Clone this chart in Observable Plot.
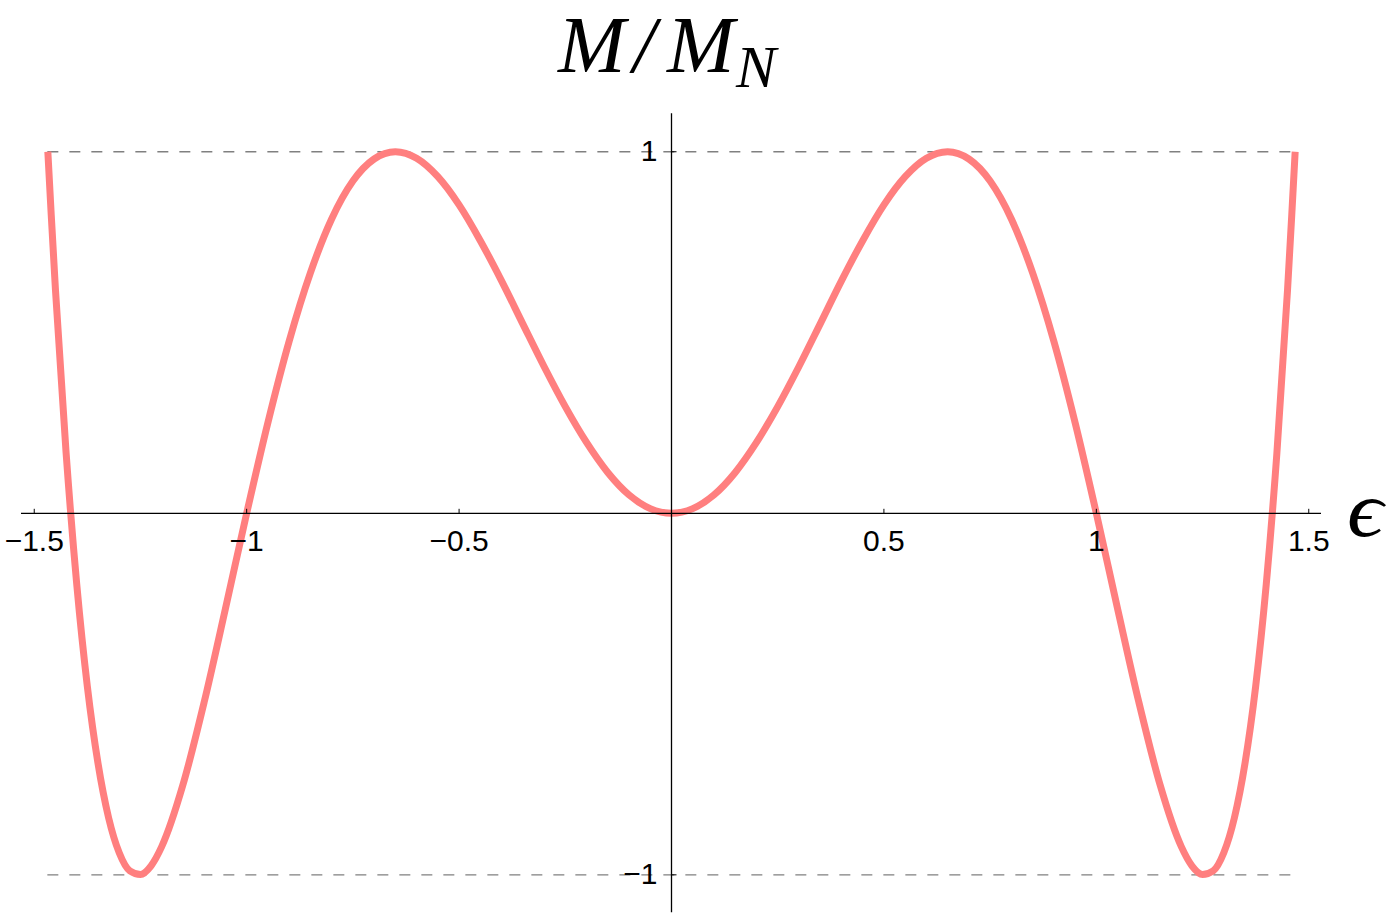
<!DOCTYPE html>
<html><head><meta charset="utf-8">
<script src="https://cdn.jsdelivr.net/npm/d3@7"></script>
<script src="https://cdn.jsdelivr.net/npm/@observablehq/plot@0.6"></script>
<style>
body{margin:0;background:#fff;}
#wrap{position:relative;width:1389px;height:916px;overflow:hidden;background:#fff;}
#wrap svg{position:absolute;left:0;top:0;}
.t{position:absolute;font-family:'Liberation Serif','Times New Roman',serif;font-style:italic;line-height:1;white-space:nowrap;color:#000;}
#m1{left:558px;top:5px;font-size:81px;}
#sl{left:633px;top:5px;font-size:81px;}
#m2{left:667px;top:5px;font-size:81px;}
#nn{left:736px;top:37px;font-size:60px;}
#xlab{position:absolute;left:1347px;top:471px;font-family:'Liberation Serif','DejaVu Serif',serif;font-style:italic;font-size:78px;line-height:1;color:#000;transform:scaleX(1.15);transform-origin:0 0;}
</style>
</head><body>
<div id="wrap">
  <span class="t" id="m1">M</span><span class="t" id="sl">/</span><span class="t" id="m2">M</span><span class="t" id="nn">N</span>
  <div id="xlab">ϵ</div>
</div>
<script>
// ε values (x) and M/M_N values (y)
const eps = [-1.468,-1.46,-1.45,-1.425,-1.4,-1.375,-1.35,-1.325,-1.3,-1.275,-1.25,-1.225,-1.2,-1.15,-1.1,-1.05,-1.0,
  -0.95,-0.9,-0.85,-0.8,-0.75,-0.7,-0.65,-0.6,-0.55,-0.5,-0.45,-0.4,-0.35,-0.3,-0.25,-0.2,-0.15,-0.1,-0.05,
  0,0.05,0.1,0.15,0.2,0.25,0.3,0.35,0.4,0.45,0.5,0.55,0.6,0.65,0.7,0.75,0.8,0.85,0.9,0.95,
  1.0,1.05,1.1,1.15,1.2,1.225,1.25,1.275,1.3,1.325,1.35,1.375,1.4,1.425,1.45,1.46,1.468];
const mRatio = [1.0,0.825,0.617,0.167,-0.196,-0.479,-0.691,-0.842,-0.939,-0.989,-0.999,-0.975,-0.922,-0.751,-0.522,-0.264,0,
  0.251,0.476,0.665,0.814,0.919,0.980,1.0,0.982,0.931,0.853,0.754,0.643,0.524,0.406,0.295,0.196,0.113,0.051,0.013,
  0,0.013,0.051,0.113,0.196,0.295,0.406,0.524,0.643,0.754,0.853,0.931,0.982,1.0,0.980,0.919,0.814,0.665,0.476,0.251,
  0,-0.264,-0.522,-0.751,-0.922,-0.975,-0.999,-0.989,-0.939,-0.842,-0.691,-0.479,-0.196,0.167,0.617,0.825,1.0];

const xTicks = [-1.5,-1,-0.5,0.5,1,1.5];
const xTickLabels = ["\u22121.5","\u22121","\u22120.5","0.5","1","1.5"];
const yTicks = [1,-1];
const yTickLabels = ["1","\u22121"];
const refLevels = [1,-1];
const refRange = [-1.468, 1.468];

const data = eps.map((e,i)=>({eps:e, m:mRatio[i]}));

const tickUp = {draw(ctx){ctx.moveTo(0,0);ctx.lineTo(0,-4.5);}};
const tickRight = {draw(ctx){ctx.moveTo(0,0);ctx.lineTo(5,0);}};

const chart = Plot.plot({
  width:1389, height:916,
  marginLeft:21, marginRight:68, marginTop:113.3, marginBottom:3.7,
  x:{domain:[-1.53,1.53], axis:null},
  y:{domain:[-1.105,1.105], axis:null},
  style:{background:"transparent", overflow:"visible"},
  marks:[
    Plot.ruleY(refLevels, {y:d=>d, x1:()=>refRange[0], x2:()=>refRange[1], stroke:"#808080", strokeWidth:1.3, strokeDasharray:"11,11"}),
    Plot.line(data, {x:"eps", y:"m", stroke:"#ff7f7f", strokeWidth:7, strokeLinecap:"butt", curve:"monotone-x"}),
    Plot.ruleY([0], {stroke:"#000", strokeWidth:1.3}),
    Plot.ruleX([0], {stroke:"#000", strokeWidth:1.3}),
    Plot.dot(xTicks, {x:d=>d, y:()=>0, symbol:tickUp, stroke:"#000", fill:"none", strokeWidth:1}),
    Plot.dot(yTicks, {x:()=>0, y:d=>d, symbol:tickRight, stroke:"#000", fill:"none", strokeWidth:1}),
    Plot.text(xTicks, {x:d=>d, y:()=>0, text:(d,i)=>xTickLabels[i], lineAnchor:"top", dy:16, fontSize:30, fontFamily:"'Liberation Sans', Arial, sans-serif", fill:"#000"}),
    Plot.text(yTicks, {x:()=>0, y:d=>d, text:(d,i)=>yTickLabels[i], textAnchor:"end", dx:-14, fontSize:30, fontFamily:"'Liberation Sans', Arial, sans-serif", fill:"#000"})
  ]
});
document.getElementById("wrap").prepend(chart);
</script>
</body></html>
